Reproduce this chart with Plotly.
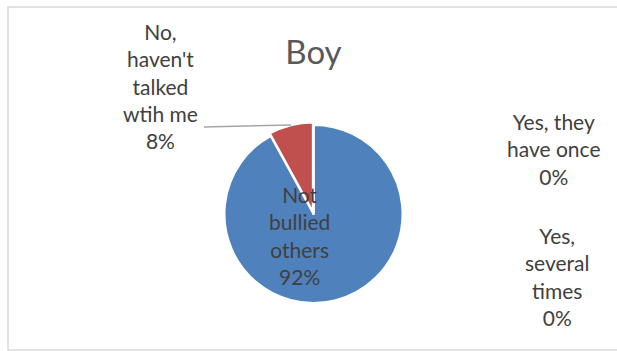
import plotly.graph_objects as go

# chart data
title = "Boy"
categories = ["Not bullied others", "No, haven't talked wtih me",
              "Yes, they have once", "Yes, several times"]
label_lines = [["Not", "bullied", "others"],
               ["No,", "haven't", "talked", "wtih me"],
               ["Yes, they", "have once"],
               ["Yes,", "several", "times"]]
values = [92, 8, 0, 0]
colors = ["#4F81BD", "#C0504D", "#9BBB59", "#8064A2"]

W, H = 617, 351
font = "Lato, 'Open Sans', sans-serif"
label_color = "#404040"

# pie placement (pixels)
cx, cy, r = 313.5, 214, 89
pull = [0, 0.03, 0, 0]
half = r * (1 + max(pull))

fig = go.Figure(
    go.Pie(
        labels=categories,
        values=values,
        sort=False,
        direction="clockwise",
        rotation=0,
        pull=pull,
        marker={"colors": colors, "line": {"color": "white", "width": 2}},
        textinfo="none",
        hoverinfo="label+percent",
        showlegend=False,
        domain={"x": [(cx - half) / W, (cx + half) / W],
                "y": [(H - cy - half) / H, (H - cy + half) / H]},
    )
)

total = sum(values)
# label centres in pixels (x, y)
label_pos = [(299, 235), (160, 86), (554, 149), (557, 276)]
annotations = []
for lines, v, (lx, ly) in zip(label_lines, values, label_pos):
    pct = f"{round(100 * v / total)}%"
    annotations.append(dict(
        x=lx / W, y=1 - ly / H, xref="paper", yref="paper",
        text="<br>".join(lines + [pct]), showarrow=False,
        xanchor="center", yanchor="middle", align="center",
        font={"family": font, "size": 21, "color": label_color},
    ))

fig.update_layout(
    width=W,
    height=H,
    margin={"l": 0, "r": 0, "t": 0, "b": 0},
    paper_bgcolor="white",
    title={"text": title, "x": 313.5 / W, "xanchor": "center",
           "y": 1 - 52 / H, "yanchor": "middle",
           "font": {"family": font, "size": 33, "color": "#595959"}},
    annotations=annotations,
    shapes=[
        # chart border
        dict(type="rect", xref="paper", yref="paper",
             x0=8 / W, x1=1.02, y0=1 - 350 / H, y1=1 - 7 / H,
             line={"color": "#D9D9D9", "width": 1.5}),
        # leader line of the small slice label
        dict(type="line", xref="paper", yref="paper",
             x0=204 / W, y0=1 - 127 / H, x1=291 / W, y1=1 - 125 / H,
             line={"color": "#A6A6A6", "width": 1.5}),
    ],
)

fig.write_html("out.html", config={"displayModeBar": False},
               post_script="document.body.style.margin='0';")
